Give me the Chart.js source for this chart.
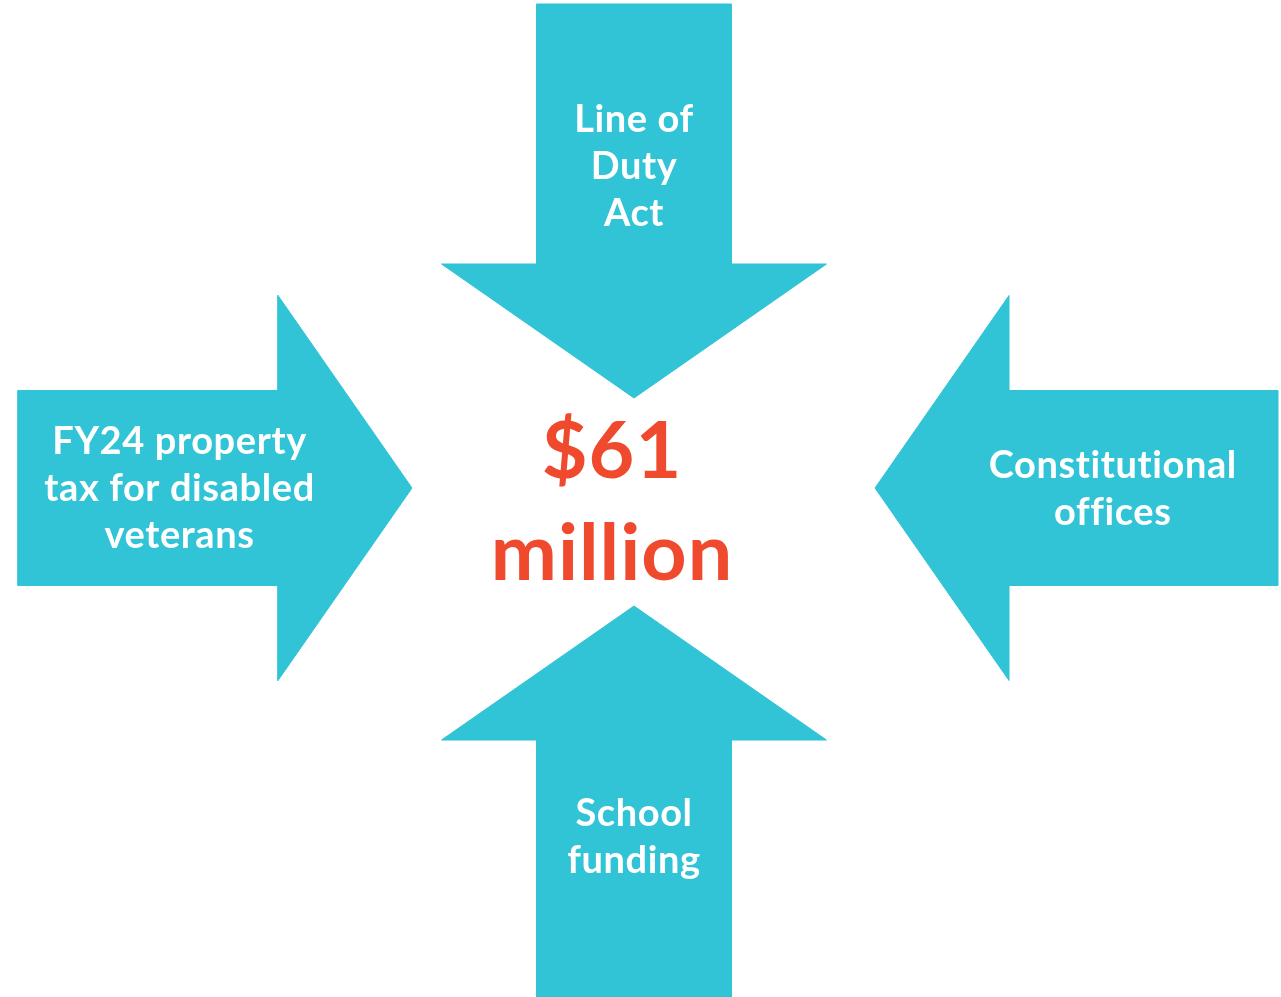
<!DOCTYPE html>
<html>
<head>
<meta charset="utf-8">
<title>$61 million</title>
<script src="https://cdn.jsdelivr.net/npm/chart.js@4/dist/chart.umd.min.js"></script>
<style>
  html, body { margin: 0; padding: 0; background: #ffffff; }
  canvas { display: block; }
</style>
</head>
<body>
<canvas id="myChart" width="1281" height="997"></canvas>
<script>
// data
const categories = ['Line of Duty Act', 'FY24 property tax for disabled veterans', 'Constitutional offices', 'School funding'];
const categoryLines = [['Line of', 'Duty', 'Act'], ['FY24 property', 'tax for disabled', 'veterans'], ['Constitutional', 'offices'], ['School', 'funding']];
const directions = ['down', 'right', 'left', 'up'];
const totalMillions = 61;
const totalLines = ['$' + totalMillions, 'million'];

// layout of the diagram (drawing units = pixels)
const hub = { x: 634, y: 488 };
const tipGap = [90, 222, 241, 118];
const arrowLength = [394, 394, 403, 391];
const shaftWidth = 195;
const headWidth = 385;
const headLength = 134;
const arrowColor = '#31c3d6';
const totalColor = '#ef4a2d';

const unit = {
    down: { dx: 0, dy: 1 }, up: { dx: 0, dy: -1 },
    right: { dx: 1, dy: 0 }, left: { dx: -1, dy: 0 }
};

function arrowShape(i) {
    const d = unit[directions[i]];
    const n = { dx: -d.dy, dy: d.dx };
    const tip = { x: hub.x - d.dx * tipGap[i], y: hub.y - d.dy * tipGap[i] };
    const at = (back, side) => ({
        x: tip.x - d.dx * back + n.dx * side,
        y: tip.y - d.dy * back + n.dy * side
    });
    const L = arrowLength[i];
    const pts = [
        at(L, shaftWidth / 2), at(headLength, shaftWidth / 2), at(headLength, headWidth / 2),
        at(0, 0),
        at(headLength, -headWidth / 2), at(headLength, -shaftWidth / 2), at(L, -shaftWidth / 2)
    ];
    pts.push(pts[0]);
    return { pts, label: at(L * 0.59, 0) };
}

const shapes = categories.map((c, i) => arrowShape(i));

const labelPlugin = {
    id: 'labels',
    afterDatasetsDraw(chart) {
        const ctx = chart.ctx;
        const xs = chart.scales.x, ys = chart.scales.y;
        ctx.save();
        ctx.textAlign = 'center';
        ctx.textBaseline = 'alphabetic';
        ctx.letterSpacing = '0.6px';
        ctx.fillStyle = '#ffffff';
        ctx.font = 'bold 38px Lato';
        shapes.forEach((s, i) => {
            const lines = categoryLines[i];
            const cx = xs.getPixelForValue(s.label.x);
            const cy = ys.getPixelForValue(s.label.y);
            lines.forEach((line, j) => {
                ctx.fillText(line, cx, cy + (j - (lines.length - 1) / 2) * 47 + 13);
            });
        });
        ctx.fillStyle = totalColor;
        ctx.font = 'bold 79px Lato';
        ctx.letterSpacing = '1px';
        const tx = xs.getPixelForValue(hub.x - 22);
        ctx.fillText(totalLines[0], tx, ys.getPixelForValue(hub.y - 10));
        ctx.fillText(totalLines[1], tx, ys.getPixelForValue(hub.y + 92));
        ctx.restore();
    }
};

new Chart(document.getElementById('myChart'), {
    type: 'scatter',
    data: {
        datasets: shapes.map((s, i) => ({
            label: categories[i],
            data: s.pts,
            showLine: true,
            fill: 'shape',
            backgroundColor: arrowColor,
            borderColor: arrowColor,
            borderWidth: 1,
            pointRadius: 0,
            tension: 0
        }))
    },
    options: {
        responsive: false,
        animation: false,
        layout: { padding: 0 },
        plugins: { legend: { display: false }, tooltip: { enabled: false } },
        scales: {
            x: { type: 'linear', min: 0, max: 1281, display: false },
            y: { type: 'linear', min: 0, max: 997, reverse: true, display: false }
        }
    },
    plugins: [labelPlugin]
});
</script>
</body>
</html>
